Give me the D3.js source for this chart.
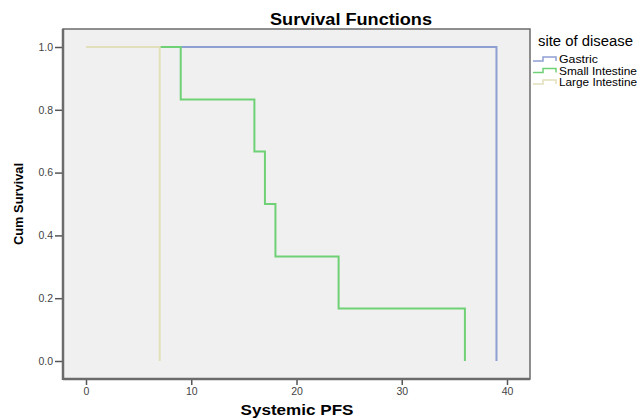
<!DOCTYPE html>
<html>
<head>
<meta charset="utf-8">
<script src="https://cdn.jsdelivr.net/npm/d3@7"></script>
<style>
  body { margin: 0; background: #fff; }
  svg { font-family: "Liberation Sans", Arial, sans-serif; }
</style>
</head>
<body>
<svg width="638" height="419"></svg>
<script>
// ---> Data
const groups = ["Gastric", "Small Intestine", "Large Intestine"];
const legendWidths = [39, 78, 78];
const colors = ["#8e9fd2", "#6fd175", "#e2e0ba"];
// step points per group: [time, survival]
const gastric = [[0, 1], [39, 1], [39, 0]];
const smallIntestine = [[0, 1], [9, 1], [9, 0.833], [16, 0.833], [16, 0.667], [17, 0.667], [17, 0.5],
    [18, 0.5], [18, 0.333], [24, 0.333], [24, 0.167], [36, 0.167], [36, 0]];
const largeIntestine = [[0, 1], [7, 1], [7, 0]];
const series = [gastric, smallIntestine, largeIntestine];
const xTicks = [0, 10, 20, 30, 40];
const yTicks = [0, 0.2, 0.4, 0.6, 0.8, 1.0];

// ---> Layout
const svg = d3.select("svg");
const box = {left: 63, right: 530, top: 29, bottom: 379};

const x = d3.scaleLinear().domain([0, 40]).range([86, 507]);
const y = d3.scaleLinear().domain([0, 1]).range([361, 47]);

//plot background
svg.append("rect")
    .attr("x", box.left)
    .attr("y", box.top)
    .attr("width", box.right - box.left)
    .attr("height", box.bottom - box.top)
    .attr("fill", "#f0f0f0")
    .attr("stroke", "#6b6b6b")
    .attr("stroke-width", 1.5);

//lines
const line = d3.line().x(d => x(d[0])).y(d => y(d[1]));
svg.append("g")
    .selectAll("path")
    .data(series)
    .enter()
    .append("path")
    .attr("d", line)
    .attr("fill", "none")
    .attr("stroke", (d, i) => colors[i])
    .attr("stroke-width", 2);

//axes
const xAxis = d3.axisBottom(x).tickValues(xTicks).tickSize(6).tickSizeOuter(0).tickPadding(3);
const gx = svg.append("g").attr("transform", `translate(0,${box.bottom})`).call(xAxis);
gx.select(".domain").remove();

const yAxis = d3.axisLeft(y).tickValues(yTicks).tickSize(8).tickSizeOuter(0).tickPadding(2)
    .tickFormat(d3.format(".1f"));
const gy = svg.append("g").attr("transform", `translate(${box.left},0)`).call(yAxis);
gy.select(".domain").remove();

svg.selectAll(".tick line").attr("stroke", "#555").attr("stroke-width", 1.5);
svg.selectAll(".tick text")
    .attr("fill", "#444")
    .style("font-size", "10.5px")
    .style("font-family", "Liberation Sans, Arial, sans-serif");

// heavier axis lines
svg.append("line").attr("x1", box.left).attr("x2", box.left).attr("y1", box.top).attr("y2", box.bottom + 1)
    .attr("stroke", "#6b6b6b").attr("stroke-width", 2.5);
svg.append("line").attr("x1", box.left).attr("x2", box.right).attr("y1", box.bottom).attr("y2", box.bottom)
    .attr("stroke", "#6b6b6b").attr("stroke-width", 2.5);

//titles
svg.append("text")
    .attr("x", 351).attr("y", 25)
    .attr("text-anchor", "middle")
    .attr("textLength", 162).attr("lengthAdjust", "spacingAndGlyphs")
    .style("font-size", "16px").style("font-weight", "bold")
    .text("Survival Functions");

svg.append("text")
    .attr("x", 297).attr("y", 415)
    .attr("text-anchor", "middle")
    .attr("textLength", 113).attr("lengthAdjust", "spacingAndGlyphs")
    .style("font-size", "14px").style("font-weight", "bold")
    .text("Systemic PFS");

svg.append("text")
    .attr("transform", "translate(23,204) rotate(-90)")
    .attr("text-anchor", "middle")
    .attr("textLength", 82).attr("lengthAdjust", "spacingAndGlyphs")
    .style("font-size", "13px").style("font-weight", "bold")
    .text("Cum Survival");

//legend
svg.append("text")
    .attr("x", 538).attr("y", 46)
    .attr("textLength", 95).attr("lengthAdjust", "spacingAndGlyphs")
    .style("font-size", "14px")
    .text("site of disease");

const legend = svg.append("g")
    .selectAll("g")
    .data(groups)
    .enter()
    .append("g")
    .attr("transform", (d, i) => `translate(533,${59 + i * 11.5})`);

legend.append("path")
    .attr("d", "M0,2 H10 V-2 H23 V2")
    .attr("fill", "none")
    .attr("stroke", (d, i) => colors[i])
    .attr("stroke-width", 1.5);

legend.append("text")
    .attr("x", 26).attr("y", 4)
    .attr("textLength", (d, i) => legendWidths[i]).attr("lengthAdjust", "spacingAndGlyphs")
    .style("font-size", "11px")
    .text(d => d);
</script>
</body>
</html>
